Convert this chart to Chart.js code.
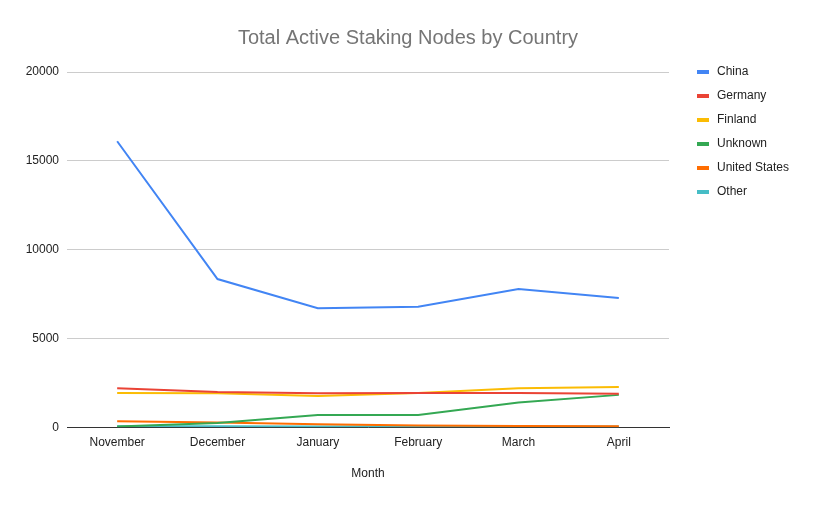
<!DOCTYPE html>
<html><head><meta charset="utf-8">
<script src="https://cdn.jsdelivr.net/npm/chart.js@4"></script>
<style>html,body{margin:0;padding:0;background:#fff}#wrap{width:816px;height:505px}</style>
</head><body><div id="wrap"><canvas id="c" width="816" height="505"></canvas></div>
<script>
const months = ["November","December","January","February","March","April"];
const china = [16100, 8340, 6700, 6780, 7780, 7270];
const germany = [2200, 1980, 1910, 1930, 1930, 1880];
const finland = [1930, 1910, 1760, 1930, 2200, 2270];
const unknown = [40, 240, 690, 690, 1390, 1820];
const unitedStates = [340, 270, 170, 100, 70, 50];
const other = [60, 50, 40, 40, 40, 40];
const seriesNames = ["China","Germany","Finland","Unknown","United States","Other"];
const seriesColors = ["#4285F4","#EA4335","#FBBC04","#34A853","#FF6D01","#46BDC6"];
const yTicks = [0, 5000, 10000, 15000, 20000];
const chartTitle = "Total Active Staking Nodes by Country";

const font = "'Liberation Sans', Arial, sans-serif";
const allData = [china, germany, finland, unknown, unitedStates, other];

const decorPlugin = {
  id: 'decor',
  afterDraw(chart) {
    const ctx = chart.ctx;
    ctx.save();
    ctx.font = "20px " + font;
    ctx.fillStyle = "#757575";
    ctx.textAlign = "center";
    ctx.textBaseline = "middle";
    ctx.fillText(chartTitle, 408, 38);
    ctx.font = "12px " + font;
    ctx.textAlign = "left";
    chart.data.datasets.forEach((ds, i) => {
      const y = 72 + 24 * i;
      ctx.fillStyle = ds.borderColor;
      ctx.fillRect(697, y - 2, 12, 4);
      ctx.fillStyle = "#222222";
      ctx.fillText(ds.label, 717, y);
    });
    ctx.restore();
  }
};

new Chart(document.getElementById('c'), {
  type: 'line',
  data: {
    labels: months,
    datasets: allData.map((d, i) => ({
      label: seriesNames[i],
      data: d,
      borderColor: seriesColors[i],
      backgroundColor: seriesColors[i],
      borderWidth: 2,
      pointRadius: 0,
      tension: 0,
      fill: false
    }))
  },
  options: {
    responsive: false,
    animation: false,
    layout: { padding: { left: 0, right: 147, top: 72, bottom: 24 } },
    plugins: {
      legend: { display: false },
      tooltip: { enabled: false },
      title: { display: false }
    },
    scales: {
      x: {
        offset: true,
        grid: { display: false, drawTicks: false },
        border: { display: true, color: "#333333", width: 1 },
        ticks: { color: "#222222", font: { family: font, size: 12 }, padding: 8, maxRotation: 0 },
        title: { display: true, text: "Month", color: "#222222", font: { family: font, size: 12 }, padding: { top: 9, bottom: 0 } }
      },
      y: {
        min: 0, max: 20000,
        afterFit(scale) { scale.width = 67; },
        afterBuildTicks(scale) { scale.ticks = yTicks.map(v => ({ value: v })); },
        grid: { color: "#cccccc", drawTicks: false },
        border: { display: false },
        ticks: { color: "#222222", font: { family: font, size: 12 }, padding: 8, callback: v => String(v) }
      }
    }
  },
  plugins: [decorPlugin]
});
</script></body></html>
